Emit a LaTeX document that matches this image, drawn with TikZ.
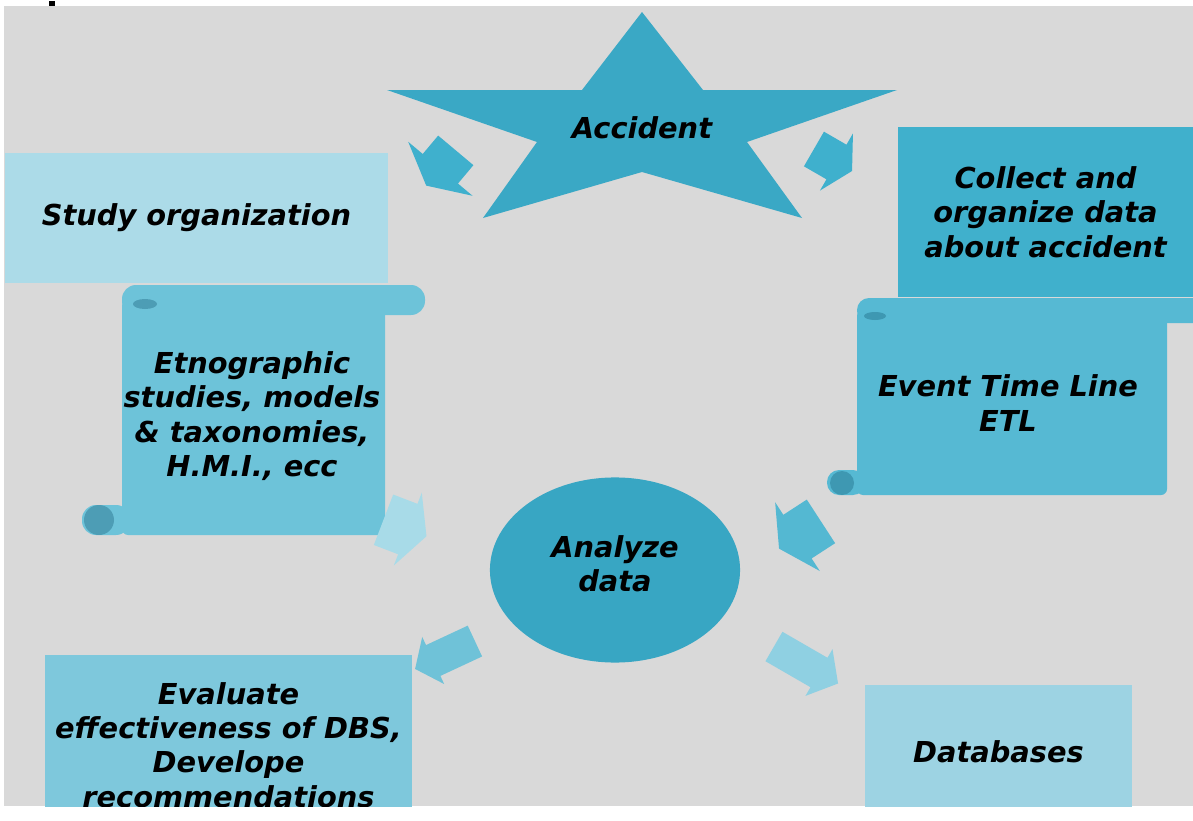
\documentclass[tikz,border=0pt]{standalone}
\usepackage{fontspec}
\setmainfont{DejaVu Sans}[BoldFont={DejaVu Sans Bold},ItalicFont={DejaVu Sans Oblique},BoldItalicFont={DejaVu Sans Bold Oblique}]
\usetikzlibrary{shapes.geometric}

\definecolor{cPanel}{HTML}{D9D9D9}
\definecolor{cStar}{HTML}{3AA8C5}
\definecolor{cStudy}{HTML}{ACDBE8}
\definecolor{cEtno}{HTML}{6DC3D9}
\definecolor{cEtnoDark}{HTML}{4D9DB5}
\definecolor{cCollect}{HTML}{40B0CC}
\definecolor{cEtl}{HTML}{56B9D3}
\definecolor{cEtlDark}{HTML}{3E98B2}
\definecolor{cAnalyze}{HTML}{38A6C3}
\definecolor{cEval}{HTML}{7EC8DC}
\definecolor{cData}{HTML}{9DD3E3}
\definecolor{cArrA}{HTML}{3FB0CD}
\definecolor{cArrC}{HTML}{A8DBE8}
\definecolor{cArrD}{HTML}{54B8D2}
\definecolor{cArrE}{HTML}{6FC2D8}
\definecolor{cArrF}{HTML}{8FD0E2}

\tikzset{
  txt/.style={font=\fontsize{8.2}{9.8}\selectfont\bfseries\itshape, align=center, text=black, inner sep=0pt},
  box/.style={txt, rectangle},
  % block arrow: length, half body width, half head width, head length, colour
  pics/barrow/.style n args={5}{code={
    \fill[#5] ({-#1/2},{-#2}) -- ({#1/2-#4},{-#2}) -- ({#1/2-#4},{-#3}) -- ({#1/2},0)
      -- ({#1/2-#4},{#3}) -- ({#1/2-#4},{#2}) -- ({-#1/2},{#2}) -- cycle;
  }}
}

\begin{document}
\begin{tikzpicture}[x=0.01cm,y=-0.01cm]
\useasboundingbox (0,0) rectangle (1193,821);

% bullet of the heading line
\node[fill=black, inner sep=0pt, minimum size=0.05cm] (bullet) at (52,4) {};

\begin{scope}
\clip (4,6) rectangle (1193,806);
\fill[cPanel] (4,6) rectangle (1193,806);

% star
\fill[cStar] (642,12) -- (703,90) -- (897,90) -- (747,142) -- (802,218) -- (642,172)
  -- (483,218) -- (537,142) -- (387,90) -- (582,90) -- cycle;
\node[txt] (acc) at (642,128) {Accident};

% upper left box
\node[box, fill=cStudy, minimum width=3.83cm, minimum height=1.30cm] (study) at (196.5,218) {Study organization};

% left scroll
\fill[cEtno, rounded corners=0.06cm] (122,300) rectangle (385,535);
\fill[cEtno, rounded corners=0.14cm] (122,285) rectangle (425,315);
\fill[cEtno, rounded corners=0.14cm] (82,505) rectangle (130,535);
\fill[cEtnoDark] (99,520) circle (15);
\fill[cEtnoDark] (145,304) ellipse (12 and 5);
\node[txt] (etno) at (252,416) {Etnographic\\studies, models\\\& taxonomies,\\H.M.I., ecc};

% upper right box
\node[box, fill=cCollect, minimum width=2.95cm, minimum height=1.70cm] (collect) at (1045.5,212) {Collect and\\organize data\\about accident};

% right scroll
\fill[cEtl, rounded corners=0.06cm] (857,310) rectangle (1167,495);
\fill[cEtl, rounded corners=0.12cm] (857,298) rectangle (1205,323);
\fill[cEtl, rounded corners=0.12cm] (827,470) rectangle (865,495);
\fill[cEtlDark] (842,483) circle (12);
\fill[cEtlDark] (875,316) ellipse (11 and 4);
\node[txt] (etl) at (1008,403) {Event Time Line\\ETL};

% centre
\node[ellipse, fill=cAnalyze, minimum width=2.5cm, minimum height=1.85cm, inner sep=0pt] (analyze) at (615,570) {};
\node[txt] (analyzetxt) at (analyze.center) [yshift=0.06cm] {Analyze\\data};

% lower boxes
\node[box, fill=cEval, minimum width=3.67cm, minimum height=1.80cm] (eval) at (228.5,745) {Evaluate\\effectiveness of DBS,\\Develope\\recommendations};
\node[box, fill=cData, minimum width=2.67cm, minimum height=1.34cm] (data) at (998.5,752) {Databases};

% block arrows (rotation angles counter-clockwise on the page)
\pic[rotate=230] at (441,168) {barrow={46}{23}{42}{22}{cArrA}};
\pic[rotate=-30] at (833,160) {barrow={44}{20}{33}{18}{cArrA}};
\pic[rotate=-21] at (405,528) {barrow={46}{27}{39}{20}{cArrC}};
\pic[rotate=213] at (800,535) {barrow={50}{26}{41}{22}{cArrD}};
\pic[rotate=205] at (445,655) {barrow={66}{17}{26}{20}{cArrE}};
\pic[rotate=-30] at (806,665) {barrow={74}{17}{27}{22}{cArrF}};
\end{scope}
\end{tikzpicture}
\end{document}
